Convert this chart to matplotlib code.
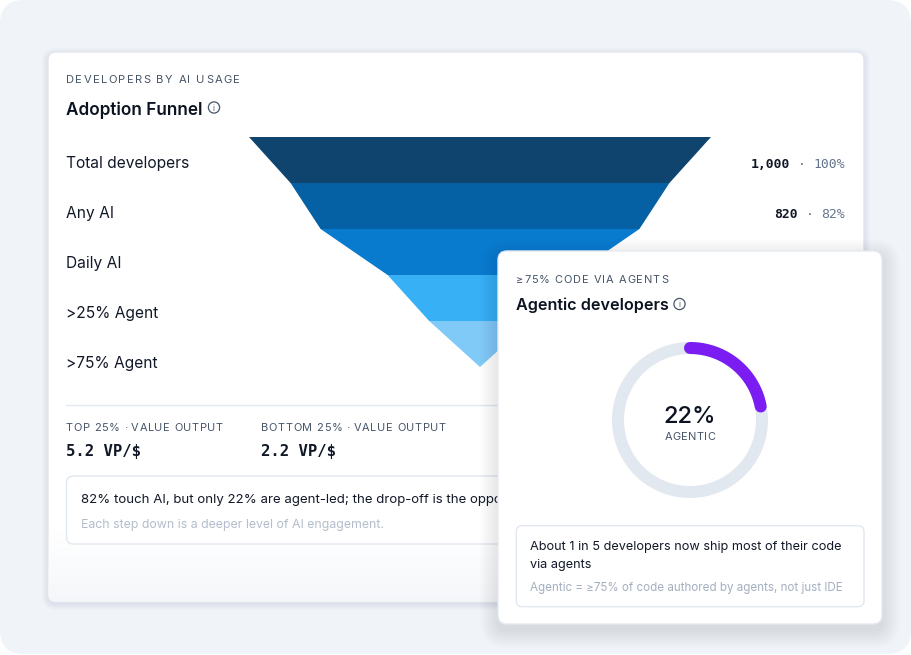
import numpy as np
import matplotlib.pyplot as plt
from matplotlib import ft2font
from matplotlib.patches import FancyBboxPatch, Polygon, Circle
from matplotlib.font_manager import FontProperties, findfont

# funnel data
stages = ["Total developers", "Any AI", "Daily AI", ">25% Agent", ">75% Agent"]
counts = [1000, 820, 690, 400, 220]
shares = [100, 82, 69, 40, 22]
band_colors = ["#0f446e", "#0560a4", "#087bce", "#38b0f6", "#80caf8"]

stat_labels = ["TOP 25% · VALUE OUTPUT", "BOTTOM 25% · VALUE OUTPUT"]
stat_values = ["5.2 VP/$", "2.2 VP/$"]

agentic_share = 22

SANS = "Inter"
MONO = "DejaVu Sans Mono"

try:
    NOHINT = ft2font.LoadFlags.NO_HINTING
except AttributeError:
    NOHINT = ft2font.LOAD_NO_HINTING

fig = plt.figure(figsize=(9.12, 6.55), dpi=100)
fig.patch.set_facecolor("white")
ax = fig.add_axes([0, 0, 1, 1])
ax.set_xlim(0, 912)
ax.set_ylim(655, 0)
ax.axis("off")
rend = fig.canvas.get_renderer()


def px(v):
    # pixel size -> points at dpi 100
    return v * 0.72


def ink(s, size, family=SANS, weight="normal"):
    fp = FontProperties(family=family, weight=weight, size=size)
    w, _, _ = rend.get_text_width_height_descent(s, fp, ismath=False)
    return w


def fit(s, width, family=SANS, weight="normal"):
    # font size (pt) that makes s about `width` px wide
    return 10 * width / ink(s, 10, family, weight)


def advances(s, size, family=SANS, weight="normal"):
    f = ft2font.FT2Font(findfont(FontProperties(family=family, weight=weight)),
                        hinting_factor=1)
    f.set_size(size, 100)
    return [f.load_char(ord(ch), flags=NOHINT).linearHoriAdvance / 65536 for ch in s]


def tracked(x, y, s, size, width, ha="left", **kw):
    # letter-spaced text: spread the glyphs to span `width` px
    adv = advances(s, size, kw.get("family", SANS), kw.get("weight", "normal"))
    nat = sum(adv[:-1]) + ink(s[-1], size, kw.get("family", SANS), kw.get("weight", "normal"))
    tr = (width - nat) / (len(s) - 1)
    if ha == "center":
        x = x - width / 2
    pos = x
    for ch, a in zip(s, adv):
        if ch != " ":
            ax.text(pos, y, ch, fontsize=size, va="baseline", **kw)
        pos += a + tr


def card(x0, y0, x1, y1, r, fc="white", ec="#e3e8ef", lw=1, z=1):
    p = FancyBboxPatch((x0 + r, y0 + r), (x1 - x0) - 2 * r, (y1 - y0) - 2 * r,
                       boxstyle="round,pad=%g" % r, fc=fc, ec=ec, lw=lw, zorder=z)
    ax.add_patch(p)
    return p


def shadow(x0, y0, x1, y1, r, z, steps=8, spread=10, dy=4, alpha=0.018):
    for i in range(steps):
        s = spread * (i + 1) / steps
        card(x0 - s, y0 - s + dy, x1 + s, y1 + s + dy, r + s,
             fc=(0.1, 0.15, 0.3, alpha), ec="none", lw=0, z=z)


def info_icon(x, y, z):
    ax.add_patch(Circle((x, y), 5.6, fill=False, ec="#475569", lw=0.9, zorder=z))
    ax.text(x, y + 0.6, "i", fontsize=px(8), family=SANS, color="#475569",
            ha="center", va="center", zorder=z)


# page background
card(0, 0, 911, 654, 24, fc="#f0f3f8", ec="none", lw=0, z=0)

# main card
shadow(48, 52, 864, 602, 8, z=0.5, steps=6, spread=6, dy=2, alpha=0.01)
main = card(48, 52, 864, 602, 8, fc="white", ec="#e2e7ee", z=1)
grad = np.linspace(0, 1, 100)
img = np.ones((100, 1, 4))
img[..., 0] = 0.955
img[..., 1] = 0.965
img[..., 2] = 0.978
img[:, 0, 3] = grad * 0.9
im = ax.imshow(img, extent=(48, 864, 602, 530), aspect="auto", zorder=1.1,
               interpolation="bilinear")
im.set_clip_path(main)

tracked(66, 83.3, "DEVELOPERS BY AI USAGE", px(11.2), 174, family=SANS,
        color="#475569", zorder=2)
ax.text(66, 115, "Adoption Funnel", fontsize=fit("Adoption Funnel", 136, weight="semibold"),
        family=SANS, weight="semibold", color="#0b1220", va="baseline", zorder=2)
info_icon(214, 107.5, 2)

# funnel bands
cx, half_top, top, band_h = 480, 231, 137, 46
half = [half_top * c / counts[0] for c in counts] + [0]
for i, col in enumerate(band_colors):
    y0 = top + i * band_h
    y1 = y0 + band_h
    poly = Polygon([(cx - half[i], y0), (cx + half[i], y0),
                    (cx + half[i + 1], y1), (cx - half[i + 1], y1)],
                   closed=True, fc=col, ec="none", zorder=2)
    ax.add_patch(poly)

# labels and values
lab_size = fit("Total developers", 123.5)
val_size = fit("1,000 · 100%", 95, family=MONO)
cw = advances("0", val_size, MONO)[0]
for i, name in enumerate(stages):
    y = 168 + i * 50
    ax.text(66, y, name, fontsize=lab_size, family=SANS, color="#111827",
            va="baseline", zorder=2)
    pct = "%d%%" % shares[i]
    ax.text(845, y, pct, fontsize=val_size, family=MONO,
            color="#64748b", ha="right", va="baseline", zorder=2)
    xr = 845 - cw * (len(pct) + 1)
    ax.text(xr, y, "·", fontsize=val_size, family=MONO, color="#64748b",
            ha="right", va="baseline", zorder=2)
    ax.text(xr - cw * 2, y, "{:,}".format(counts[i]), fontsize=val_size, family=MONO,
            weight="bold", color="#111827", ha="right", va="baseline", zorder=2)

# divider and stats
ax.plot([66, 846], [405, 405], color="#e2e8f0", lw=1, zorder=2)
stat_widths = [157, 185]
for i, (lab, val) in enumerate(zip(stat_labels, stat_values)):
    x = 66 + i * 195
    tracked(x, 431.3, lab, px(11), stat_widths[i], family=SANS,
            color="#475569", zorder=2)
    ax.text(x, 455.7, val, fontsize=px(15.6), family=MONO, weight="bold",
            color="#111827", va="baseline", zorder=2)

# note box
card(66.5, 476, 846, 544, 7, fc="white", ec="#e2e8f0", z=2)
line1 = "82% touch AI, but only 22% are agent-led; the drop-off is the opportunity."
ax.text(81, 503.3, line1,
        fontsize=fit("82% touch AI, but only 22% are agent-led; the drop-off is the opp", 414),
        family=SANS, color="#111827", va="baseline", zorder=2.5)
ax.text(81, 527.7, "Each step down is a deeper level of AI engagement.",
        fontsize=fit("Each step down is a deeper level of AI engagement.", 304),
        family=SANS, color="#b4bdcb", va="baseline", zorder=2.5)

# overlay card
shadow(498, 251, 882, 624, 9, z=3, steps=12, spread=18, dy=6, alpha=0.006)
card(498, 251, 882, 624, 9, fc="white", ec="#e6eaf0", z=4)
tracked(516, 282.7, "≥75% CODE VIA AGENTS", px(11), 152, family=SANS,
        color="#475569", zorder=5)
ax.text(516, 310, "Agentic developers",
        fontsize=fit("Agentic developers", 152.5, weight="semibold"), family=SANS,
        weight="semibold", color="#0b1220", va="baseline", zorder=5)
info_icon(679.5, 304, 5)

# donut
dcx, dcy, r = 690, 420, 72
t = np.linspace(0, 2 * np.pi, 400)
ax.plot(dcx + r * np.sin(t), dcy - r * np.cos(t), color="#e2e8f0",
        lw=px(12), zorder=5)
t = np.linspace(0, 2 * np.pi * agentic_share / 100, 200)
ax.plot(dcx + r * np.sin(t), dcy - r * np.cos(t), color="#7a1cf2",
        lw=px(12), solid_capstyle="round", zorder=6)
pct_txt = "%d%%" % agentic_share
ax.text(dcx, 423.3, pct_txt, fontsize=fit(pct_txt, 53, weight="medium"), family=SANS,
        weight="medium", color="#0b1220", ha="center", va="baseline", zorder=6)
tracked(dcx, 440, "AGENTIC", px(11), 50, ha="center", family=SANS,
        color="#475569", zorder=6)

# card note
card(516.3, 525.7, 864, 606.7, 6, fc="white", ec="#e2e8f0", z=5)
note_size = fit("About 1 in 5 developers now ship most of their code", 313.5)
ax.text(530, 550, "About 1 in 5 developers now ship most of their code",
        fontsize=note_size, family=SANS, color="#111827", va="baseline", zorder=6)
ax.text(530, 567.7, "via agents", fontsize=note_size, family=SANS, color="#111827",
        va="baseline", zorder=6)
ax.text(530, 591, "Agentic = ≥75% of code authored by agents, not just IDE",
        fontsize=fit("Agentic = ≥75% of code authored by agents, not just IDE", 314),
        family=SANS, color="#a3afc0", va="baseline", zorder=6)

fig.savefig("out.png", dpi=100, facecolor="white")
